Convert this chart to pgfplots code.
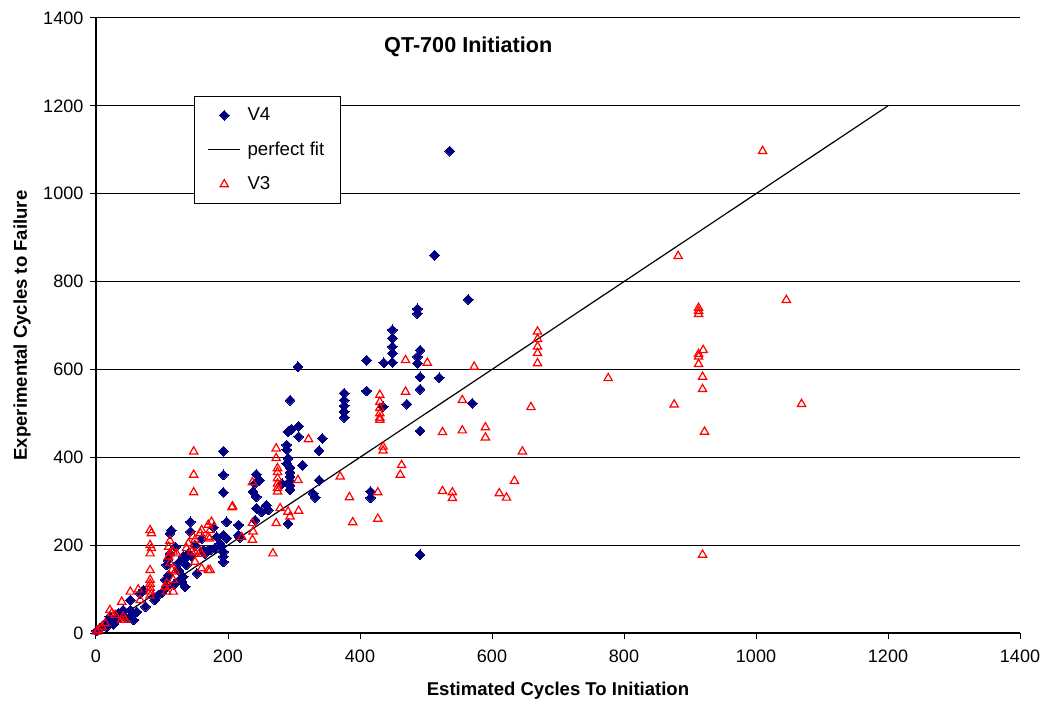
\documentclass[border=0pt]{standalone}
\usepackage{fontspec}
\setmainfont{Liberation Sans}
\usepackage{pgfplots}
\pgfplotsset{compat=1.18}
\definecolor{vnavy}{RGB}{0,0,128}
\definecolor{vred}{RGB}{255,0,0}
\pgfplotsset{
  markleg/.style={legend image code/.code={\draw[##1] plot coordinates {(12pt,0pt)};}},
  lineleg/.style={legend image code/.code={\draw[##1] (0pt,0pt)--(24pt,0pt);}},
}
\begin{document}
\begin{tikzpicture}
\begin{axis}[
  scale only axis,
  width=693pt, height=461.25pt,
  xmin=0, xmax=1400, ymin=0, ymax=1400,
  xtick={0,200,...,1400}, ytick={0,200,...,1400},
  axis x line*=bottom, axis y line*=left,
  axis line style={line width=0.9pt, -},
  tick align=outside, major tick length=4.5pt,
  tick style={black, line width=0.75pt},
  ymajorgrids, major grid style={black, line width=0.75pt},
  /pgf/number format/assume math mode=true,
  /pgf/number format/1000 sep={},
  tick label style={font=\fontsize{13.5}{15}\selectfont},
  xticklabel style={yshift=-5pt},
  yticklabel style={xshift=-1.5pt},
  xlabel={\textbf{Estimated Cycles To Initiation}},
  ylabel={\textbf{Experimental Cycles to Failure}},
  label style={font=\fontsize{13.9}{16}\selectfont},
  xlabel style={at={(axis description cs:0.5,0)}, anchor=center, yshift=-43.5pt},
  ylabel style={at={(axis description cs:0,0.5)}, anchor=center, rotate=0, yshift=55.5pt},
  clip=false,
  legend cell align=left,
  legend style={at={(rel axis cs:0.106,0.873)}, anchor=north west,
    draw=black, line width=0.6pt, fill=white,
    font=\fontsize{14}{16}\selectfont,
    inner xsep=10pt, inner ysep=6.5pt, row sep=10.5pt,
    /tikz/every odd column/.append style={column sep=3pt}},
]
\addplot[only marks, mark=square*, mark size=2.6pt,
  mark options={rotate=45, fill=vnavy, draw=vnavy, line width=0pt}, color=vnavy, markleg]
coordinates {
(536,1097)(513,860)(564,759)(487,738)(487,727)
(449,690)(449,671)(449,652)(449,637)(449,616)
(410,621)(436,615)(491,644)(487,629)(487,614)
(491,583)(520,581)(491,555)(410,551)
(376,546)(376,530)(376,517)(376,504)(376,491)
(435,515)(471,521)(570,523)(491,460)(416,322)(416,308)(491,178)
(306,606)(294,530)(307,471)(296,464)(291,458)(307,447)(343,443)
(289,428)(289,417)(193,414)(338,415)(291,398)(313,382)
(294,376)(294,366)(294,356)(294,346)(294,336)(294,326)(282,340)(289,386)
(193,360)(243,361)(248,348)(241,341)(338,348)(193,320)(238,322)(243,310)
(329,318)(332,309)(243,284)(251,276)(258,291)(261,280)(241,257)(291,249)
(198,253)(216,246)(193,223)(198,216)(216,223)(218,218)(183,219)(188,204)
(190,197)(193,185)(180,193)(173,189)(163,189)(170,189)(165,181)(193,174)(193,162)
(143,253)(143,231)(114,234)(112,227)(132,174)(140,181)(135,170)(137,155)
(112,181)(109,166)(107,155)(153,136)(125,143)(132,128)(130,117)(135,105)(127,121)
(110,132)(105,121)(107,105)(94,86)(89,75)(87,83)(72,98)(67,90)
(52,75)(52,52)(54,41)(57,30)(41,52)(34,45)(21,37)(19,26)(11,18)(6,11)(1,5)
(75,60)(62,48)(45,35)(30,28)(26,20)(16,14)
(150,200)(160,215)(178,240)(120,196)(125,160)(100,92)(118,110)(145,175)
};
\addlegendentry{V4}
\addplot[black, line width=0.9pt, no marks, lineleg]
coordinates {(0,0)(1200,1200)};
\addlegendentry{perfect fit}
\addplot[only marks, mark=triangle, mark size=3.6pt,
  mark options={draw=vred, line width=0.9pt, fill=none}, color=vred, markleg]
coordinates {
(1010,1097)(882,858)(1046,758)(913,740)(913,733)(913,726)
(920,644)(913,635)(913,629)(913,612)(776,580)(919,583)(919,555)
(876,520)(1069,521)(922,458)(919,178)
(669,686)(669,669)(669,652)(669,637)(669,614)
(469,621)(502,615)(573,606)
(430,542)(430,526)(430,512)(430,500)(430,490)(430,485)
(469,549)(555,530)(659,514)(525,457)(555,461)(590,468)(590,445)
(435,424)(435,415)(646,413)(370,356)(463,382)(461,360)(634,346)
(384,309)(427,320)(525,323)(540,320)(540,307)(611,318)(622,308)
(389,252)(427,260)(322,441)
(273,420)(273,398)(275,375)(275,366)(275,352)(275,340)(275,330)(275,322)
(237,343)(306,348)(207,288)(279,284)(291,276)(294,265)(307,278)
(237,250)(273,250)(238,231)(237,212)(268,181)(221,218)
(148,413)(148,360)(148,320)(206,286)
(175,253)(170,246)(173,234)(170,219)(172,215)(160,234)(158,227)
(147,220)(150,212)(140,204)(137,193)(145,185)(150,183)(158,185)(160,180)
(112,210)(110,196)(112,181)(110,174)
(82,234)(84,227)(82,200)(84,193)(82,181)(82,143)(82,121)(82,112)(82,103)(82,94)(82,85)
(117,185)(122,181)(112,159)(115,143)(120,140)(105,105)(107,94)(117,94)(107,113)(117,121)
(52,94)(64,99)(67,75)(39,71)(21,52)(24,45)(29,41)(41,37)(44,30)(39,30)
(14,22)(9,14)(4,7)(1,3)(170,143)(173,143)(160,147)(150,162)
};
\addlegendentry{V3}
\node[font=\bfseries\fontsize{16.2}{18}\selectfont] at (axis cs:564,1334) {QT-700 Initiation};
\coordinate (bbsw) at (rel axis cs:0,0);
\coordinate (bbne) at (rel axis cs:1,1);
\end{axis}
\pgfresetboundingbox
\path ([shift={(-72pt,-53.25pt)}]bbsw) rectangle ([shift={(30pt,13.5pt)}]bbne);
\end{tikzpicture}
\end{document}
